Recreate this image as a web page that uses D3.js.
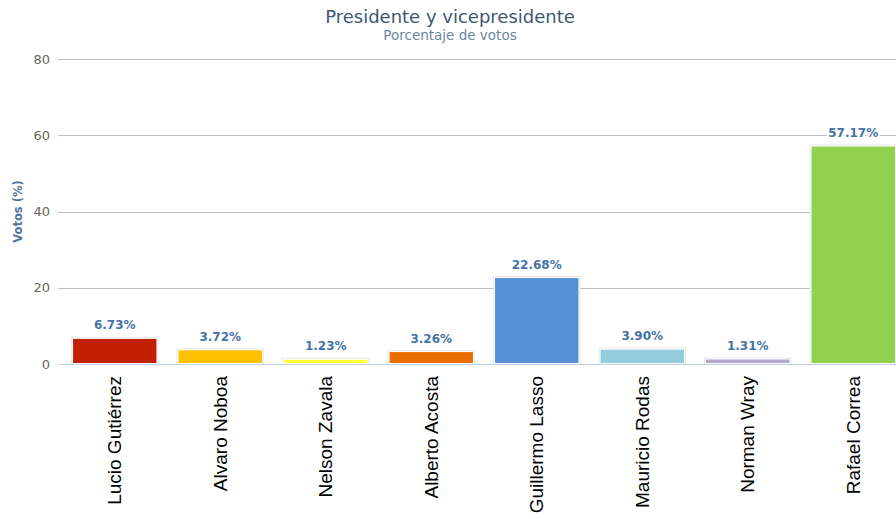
<!DOCTYPE html>
<html>
<head>
<meta charset="utf-8">
<script src="https://cdn.jsdelivr.net/npm/d3@7/dist/d3.min.js"></script>
<style>
  html, body { margin: 0; padding: 0; background: #fff; }
  svg { display: block; }
</style>
</head>
<body>
<svg id="chart" width="896" height="519"></svg>
<script>
// Presidential vote share by candidate
const candidates = ["Lucio Gutiérrez", "Alvaro Noboa", "Nelson Zavala", "Alberto Acosta",
                    "Guillermo Lasso", "Mauricio Rodas", "Norman Wray", "Rafael Correa"];
const votes = [6.73, 3.72, 1.23, 3.26, 22.68, 3.90, 1.31, 57.17];
const barColors = ["#C21F00", "#FFC000", "#FFFF33", "#EB6E00", "#5591D7", "#93CDDD", "#B3A9CF", "#92D050"];
const yTicks = [0, 20, 40, 60, 80];

const svg = d3.select("#chart");
const margin = { left: 62, right: -10, top: 59, bottom: 155 };
const W = 896, H = 519;

const x = d3.scaleBand().domain(candidates)
  .range([margin.left, W - margin.right]).paddingInner(0.2).paddingOuter(0.1);
const y = d3.scaleLinear().domain([0, 80]).range([H - margin.bottom, margin.top]);

// Title and subtitle
svg.append("text").attr("x", 450).attr("y", 23).attr("text-anchor", "middle")
  .attr("font-family", "'DejaVu Sans', sans-serif").attr("font-size", 18)
  .attr("fill", "#3E576F").text("Presidente y vicepresidente");
svg.append("text").attr("x", 450).attr("y", 40).attr("text-anchor", "middle")
  .attr("font-family", "'DejaVu Sans', sans-serif").attr("font-size", 13.5)
  .attr("fill", "#6D869F").text("Porcentaje de votos");

// Grid lines
svg.append("g").selectAll("line").data(yTicks.filter(d => d > 0)).join("line")
  .attr("x1", 58).attr("x2", W).attr("y1", d => Math.round(y(d)) + 0.5).attr("y2", d => Math.round(y(d)) + 0.5)
  .attr("stroke", "#C0C0C0").attr("stroke-width", 1);

// Y axis tick labels
const yAxis = svg.append("g").attr("transform", `translate(58,0)`)
  .call(d3.axisLeft(y).tickValues(yTicks).tickSize(0).tickPadding(8));
yAxis.select(".domain").remove();
yAxis.selectAll("text").attr("font-family", "'DejaVu Sans', sans-serif").attr("font-size", 13)
  .attr("fill", "#666");

// Y axis title
svg.append("text").attr("transform", `translate(18,${y(40)}) rotate(-90)`)
  .attr("text-anchor", "middle").attr("dy", "0.35em").attr("font-family", "'DejaVu Sans', sans-serif")
  .attr("font-size", 11.5).attr("font-weight", "bold").attr("fill", "#4D759E").text("Votos (%)");

// Bars with soft light border
const bars = svg.append("g");
bars.selectAll("rect.shadow").data(votes).join("rect").attr("class", "shadow")
  .attr("x", (d, i) => x(candidates[i]) - 1.5).attr("width", x.bandwidth() + 3)
  .attr("y", d => y(d) - 1.5).attr("height", d => y(0) - y(d) + 1.5)
  .attr("fill", "#E8E8E8");
bars.selectAll("rect.bar").data(votes).join("rect").attr("class", "bar")
  .attr("x", (d, i) => x(candidates[i])).attr("width", x.bandwidth())
  .attr("y", d => y(d)).attr("height", d => y(0) - y(d) - 0.5)
  .attr("fill", (d, i) => barColors[i]).attr("stroke", "#fff").attr("stroke-width", 1);

// Value labels
const labels = svg.append("g").selectAll("g").data(votes).join("g")
  .attr("transform", (d, i) => `translate(${x(candidates[i]) + x.bandwidth() / 2},${y(d) - 9})`);
labels.append("text").attr("text-anchor", "middle")
  .attr("font-family", "'DejaVu Sans', sans-serif").attr("font-size", 12).attr("font-weight", "bold")
  .attr("fill", "#4572A7").attr("stroke", "#fff").attr("stroke-width", 4).attr("paint-order", "stroke")
  .text(d => d.toFixed(2) + "%");

// X axis line
svg.append("line").attr("x1", 58).attr("x2", W).attr("y1", y(0) + 0.5).attr("y2", y(0) + 0.5)
  .attr("stroke", "#C0D0E0").attr("stroke-width", 1);

// Category labels, rotated
const xAxis = svg.append("g").attr("transform", `translate(0,${y(0)})`)
  .call(d3.axisBottom(x).tickSize(0).tickPadding(0));
xAxis.select(".domain").remove();
xAxis.selectAll("text")
  .attr("font-family", "'Liberation Sans', Arial, sans-serif").attr("font-size", 19)
  .attr("fill", "#000").attr("text-anchor", "end").attr("dy", "0.35em")
  .attr("transform", "translate(0,12) rotate(-90)");
</script>
</body>
</html>
